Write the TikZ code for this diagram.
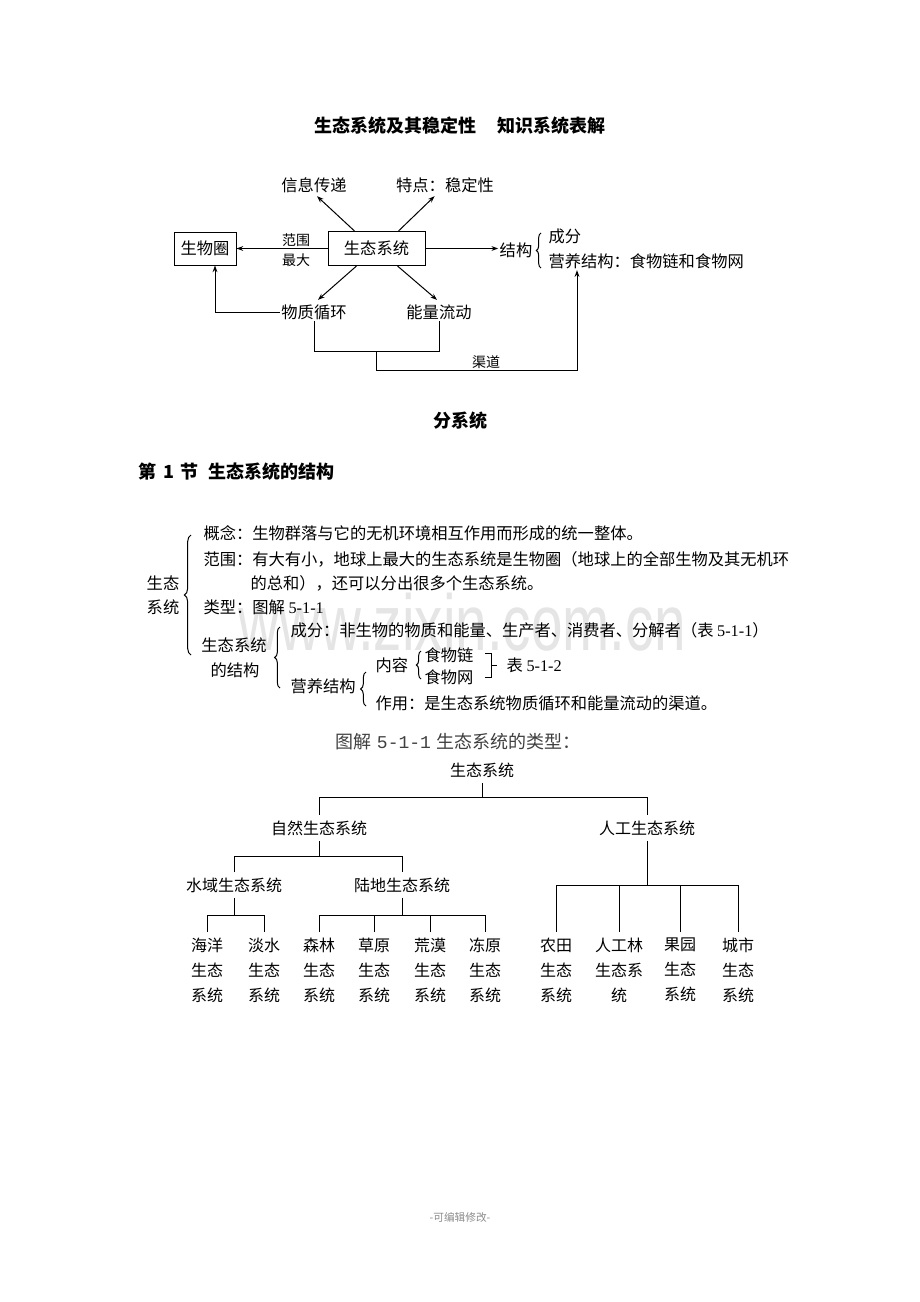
\documentclass[tikz,border=0pt]{standalone}
\usepackage{fontspec}
\setmainfont{Noto Sans CJK SC}
\newfontfamily\tms{Liberation Serif}
\newfontfamily\mono{Liberation Mono}
\newfontfamily\wmfont{Liberation Sans}
\usetikzlibrary{arrows.meta,decorations.pathreplacing,calc}
\definecolor{wm}{gray}{0.9}
\definecolor{capgray}{gray}{0.25}
\definecolor{footgray}{gray}{0.55}
\begin{document}
\begin{tikzpicture}[x=0.75pt,y=-0.75pt,
  every node/.style={inner sep=1pt},
  t/.style={font=\fontsize{12.2pt}{15pt}\selectfont},
  tl/.style={t,anchor=west},
  sm/.style={font=\fontsize{10.5pt}{13pt}\selectfont},
  head/.style={font=\fontsize{13.5pt}{16pt}\selectfont\bfseries},
  box/.style={draw,line width=0.75pt,t},
  ln/.style={line width=0.75pt},
  arr/.style={ln,-{Stealth[length=5pt,width=3.6pt]}},
  br/.style={ln,decorate,decoration={brace,amplitude=#1}},
  tr/.style={font=\fontsize{12pt}{18.75pt}\selectfont,inner xsep=0pt,inner ysep=4pt,align=center},
]
\fill[white] (0,0) rectangle (920,1302);
\useasboundingbox (0,0) rectangle (920,1302);

% watermark
\node[anchor=base,text=wm,font=\wmfont\fontsize{42.5pt}{48pt}\selectfont] (wmk) at (462,650) {\scalebox{1}[1.4]{www.zixin.com.cn}};

% ---------- top diagram ----------
\node[head] (title) at (460,126) {生态系统及其稳定性\hspace{2pt}　知识系统表解};
\node[box,minimum width=46.5pt,minimum height=24.75pt] (bio) at (205,248.5) {生物圈};
\node[box,minimum width=72.75pt,minimum height=25.5pt] (eco) at (376.5,248.5) {生态系统};
\node[t] (info) at (314,185) {信息传递};
\node[t] (trait) at (445,185) {特点：稳定性};
\node[sm] (fw) at (296,240) {范围};
\node[sm] (zd) at (296,260) {最大};
\node[t] (jg) at (516,250) {结构};
\node[tl] (cf) at (547,236) {成分};
\node[tl] (yy) at (547,261) {营养结构：食物链和食物网};
\node[t] (wz) at (314,312) {物质循环};
\node[t] (nl) at (439,312) {能量流动};
\node[sm] (qd) at (486,362) {渠道};

\draw[arr] (eco.west) -- (bio.east);
\draw[arr] (eco.east) -- (eco.east -| jg.west);
\draw[arr] ($(eco.north west)+(27,0)$) -- ($(info.south)+(3,2)$);
\draw[arr] ($(eco.north east)+(-27,0)$) -- ($(trait.south west)+(40,2)$);
\draw[arr] ($(eco.south west)+(29,0)$) -- ($(wz.north)+(4,-3)$);
\draw[arr] ($(eco.south east)+(-28,0)$) -- ($(nl.north)+(-2,-3)$);
\draw[br=3.5pt] (541,268) -- (541,233);
\draw[arr] (wz.west) -| ($(bio.south)+(10,0)$);
\coordinate (brk) at (376.5,351);
\draw[ln] (wz.south) -- (wz.south |- brk) -- (nl.south |- brk) -- (nl.south);
\coordinate (chan) at (376.5,370);
\draw[arr] (brk) -- (chan) -| ($(yy.south west)+(30,0)$);

% ---------- headings ----------
\node[head] (fen) at (460,421) {分系统};
\node[head,anchor=west] (sec) at (137,472) {第\hspace{5pt}1\hspace{5pt}节\hspace{7pt}生态系统的结构};

% ---------- middle outline ----------
\node[t] (st1) at (163,583) {生态};
\node[t] (st2) at (163,607) {系统};
\draw[br=5pt] (191,655) -- (191,535);
\node[tl] (gn) at (202,533) {概念：生物群落与它的无机环境相互作用而形成的统一整体。};
\node[tl] (fwl) at (202,559) {范围：有大有小，地球上最大的生态系统是生物圈（地球上的全部生物及其无机环};
\node[tl] (fwl2) at (249,583) {的总和），还可以分出很多个生态系统。};
\node[tl] (lx) at (202,607) {类型：图解 {\tms 5-1-1}};
\node[t] (jg1) at (234,645) {生态系统};
\node[t] (jg2) at (235,670) {的结构};
\draw[br=4pt] (280,688) -- (280,627);
\node[tl] (cfl) at (289,630) {成分：非生物的物质和能量、生产者、消费者、分解者（表 {\tms 5-1-1}）};
\node[tl] (yyl) at (289,686) {营养结构};
\draw[br=4pt] (366,706) -- (366,672);
\node[tl] (nr) at (374,665) {内容};
\draw[br=3.5pt] (421,679) -- (421,651);
\node[tl] (swl) at (423,655) {食物链};
\node[tl] (sww) at (423,677) {食物网};
\draw[ln] (485,653) -- (491,653) -- (491,677) -- (485,677);
\draw[ln] (491,665) -- (497,665);
\node[tl] (b512) at (505,665) {表 {\tms 5-1-2}};
\node[tl] (zy) at (374,703) {作用：是生态系统物质循环和能量流动的渠道。};

% ---------- tree ----------
\node[font=\fontsize{13.5pt}{16pt}\selectfont,text=capgray] (cap) at (458,742) {图解\hspace{4pt}{\mono 5-1-1}\hspace{4pt}生态系统的类型：};
\node[tr] (root) at (482,770) {生态系统};
\node[tr] (zr) at (319,828) {自然生态系统};
\node[tr] (rg) at (647,828) {人工生态系统};
\node[tr] (sy) at (234,885) {水域生态系统};
\node[tr] (ld) at (402,885) {陆地生态系统};
\node[tr] (hy) at (207,970) {海洋\\生态\\系统};
\node[tr] (ds) at (264,970) {淡水\\生态\\系统};
\node[tr] (sl) at (319,970) {森林\\生态\\系统};
\node[tr] (cy) at (374,970) {草原\\生态\\系统};
\node[tr] (hm) at (430,970) {荒漠\\生态\\系统};
\node[tr] (dy) at (485,970) {冻原\\生态\\系统};
\node[tr] (nt) at (556,970) {农田\\生态\\系统};
\node[tr] (rgl) at (619,970) {人工林\\生态系\\统};
\node[tr] (gy) at (680,970) {果园\\生态\\系统};
\node[tr] (cs) at (738,970) {城市\\生态\\系统};

\coordinate (bus1) at (0,797);
\coordinate (bus2) at (0,856);
\coordinate (bus3) at (0,915);
\coordinate (bus4) at (0,885);
\draw[ln] (root.south) -- (root.south |- bus1);
\draw[ln] (zr.north) -- (zr.north |- bus1) -- (rg.north |- bus1) -- (rg.north);
\draw[ln] (zr.south) -- (zr.south |- bus2);
\draw[ln] (sy.north) -- (sy.north |- bus2) -- (ld.north |- bus2) -- (ld.north);
\draw[ln] (sy.south) -- (sy.south |- bus3);
\draw[ln] (hy.north) -- (hy.north |- bus3) -- (ds.north |- bus3) -- (ds.north);
\draw[ln] (ld.south) -- (ld.south |- bus3);
\draw[ln] (sl.north) -- (sl.north |- bus3) -- (dy.north |- bus3) -- (dy.north);
\draw[ln] (cy.north) -- (cy.north |- bus3);
\draw[ln] (hm.north) -- (hm.north |- bus3);
\draw[ln] (rg.south) -- (rg.south |- bus4);
\draw[ln] (nt.north) -- (nt.north |- bus4) -- (cs.north |- bus4) -- (cs.north);
\draw[ln] (rgl.north) -- (rgl.north |- bus4);
\draw[ln] (gy.north) -- (gy.north |- bus4);

% footer
\node[font=\fontsize{8pt}{10pt}\selectfont,text=footgray] (foot) at (460,1217) {-可编辑修改-};
\end{tikzpicture}
\end{document}
